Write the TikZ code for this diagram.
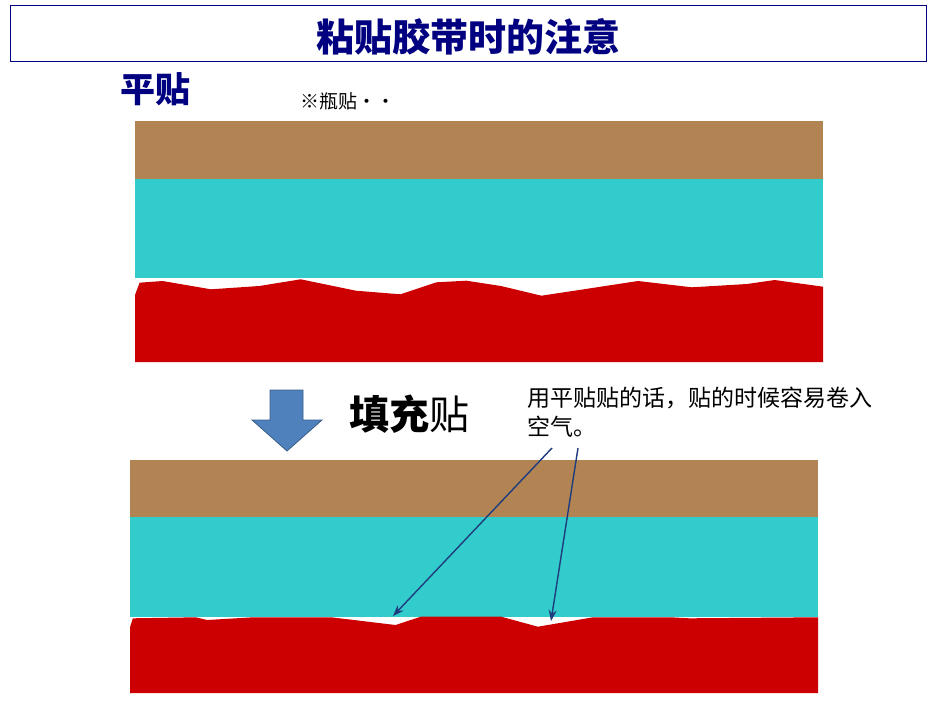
\documentclass[tikz,border=0pt]{standalone}
\usepackage{fontspec}
\newfontfamily\cjk{Noto Sans CJK SC}
\usetikzlibrary{arrows.meta}
\definecolor{navy}{RGB}{0,0,128}
\definecolor{tapebrown}{RGB}{178,132,84}
\definecolor{tapecyan}{RGB}{51,204,204}
\definecolor{tapered}{RGB}{204,0,0}
\definecolor{arrowblue}{RGB}{79,129,189}
\definecolor{arrowedge}{RGB}{56,93,138}
\definecolor{noteline}{RGB}{31,60,125}
\tikzset{
  txt/.style={inner sep=0pt, outer sep=0pt},
  notearrow/.style={draw=noteline, line width=1.4pt, -{Stealth[length=11pt,width=8pt]}},
}
\begin{document}
\begin{tikzpicture}[x=1pt,y=-1pt]
\useasboundingbox (0,0) rectangle (936,706);
\fill[white] (0,0) rectangle (936,706);
% title
\draw[navy, line width=1pt] (10,6) rectangle (926,62);
\node (title) [txt, font=\cjk\bfseries\fontsize{38}{38}\selectfont, text=navy] at (468,36.5) {粘贴胶带时的注意};
% labels
\node (flat) [txt, anchor=west, font=\cjk\bfseries\fontsize{35}{35}\selectfont, text=navy] at (120,89) {平贴};
\node (bottle) [txt, anchor=west, font=\cjk\fontsize{19}{19}\selectfont] at (300,101) {※瓶贴・・};
% top diagram
\fill[tapebrown] (135,121) rectangle (823,179);
\fill[tapecyan] (135,179) rectangle (823,278);
\fill[tapered] (135,295) -- (139.6,282.7) -- (162.6,281) -- (210.9,289.3) -- (259.3,286) -- (300.7,279.3) -- (355.9,290.7) -- (400.5,294.3) -- (436.4,282.3) -- (466.3,280.7) -- (500.9,286) -- (541.4,295.7) -- (583.7,289.3) -- (638,281) -- (691.8,287.3) -- (747.1,284) -- (774.7,280) -- (823,286.7) -- (823,362) -- (135,362) -- cycle;
% down arrow
\draw[fill=arrowblue, draw=arrowedge, line width=0.8pt] (270,390) -- (303,390) -- (303,420) -- (322,420) -- (287,451) -- (252,420) -- (270,420) -- cycle;
\node (fill) [txt, anchor=west, font=\cjk\fontsize{40}{40}\selectfont] at (349,414) {\textbf{填充}贴};
% note
\node (note) [txt, anchor=north west, align=left, font=\cjk\fontsize{23}{29}\selectfont] at (527,387) {用平贴贴的话，贴的时候容易卷入\\空气。};
% bottom diagram
\fill[tapebrown] (130,460) rectangle (818,517);
\fill[tapecyan] (130,517) rectangle (818,617);
\fill[tapered] (130.2,626.7) -- (132.8,618.3) -- (195.7,617.3) -- (207.2,620) -- (253.1,617.3) -- (331.2,617.3) -- (395.5,625) -- (420.8,616.7) -- (501.2,616.7) -- (537.9,626.7) -- (593,617.3) -- (671.1,617.3) -- (689.5,618.3) -- (818,617.3) -- (818,693) -- (130,693) -- cycle;
% note arrows
\coordinate (s1) at (552,448);
\coordinate (e1) at (393,616);
\coordinate (s2) at (578,448);
\coordinate (e2) at (551,621);
\draw[notearrow] (s1) -- (e1);
\draw[notearrow] (s2) -- (e2);
\end{tikzpicture}
\end{document}
